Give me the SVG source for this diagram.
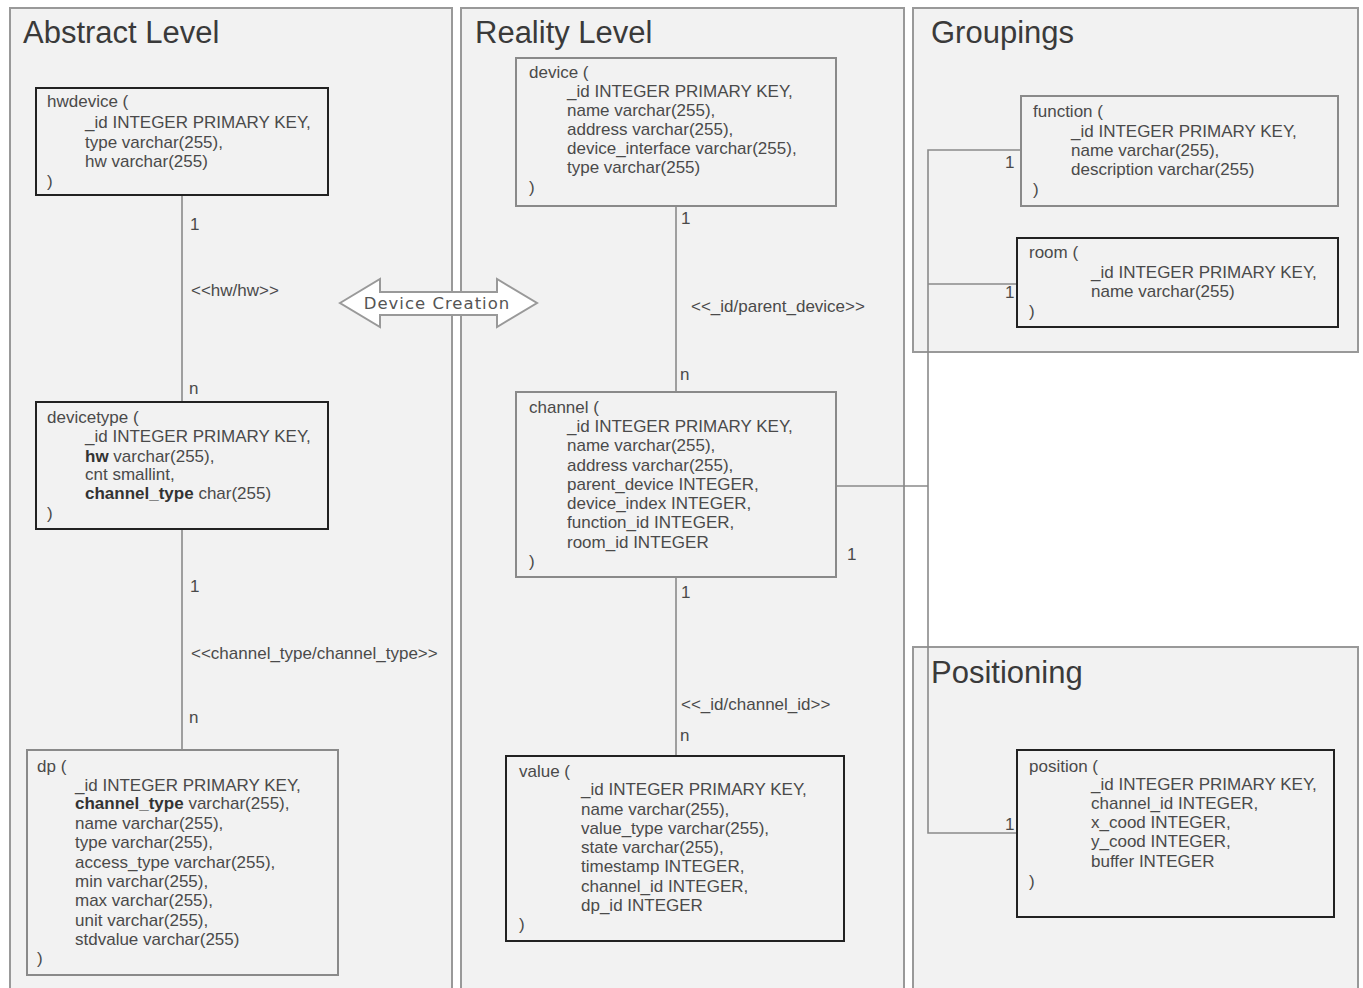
<svg xmlns="http://www.w3.org/2000/svg" width="1363" height="988" viewBox="0 0 1363 988">
<style>
.panel{fill:#f2f2f2;stroke:#999;stroke-width:2}
.title{font-family:"Liberation Sans",Arial,sans-serif;font-size:31px;fill:#3a3a3a}
.nodeA{fill:#f2f2f2;stroke:#222;stroke-width:2}
.nodeB{fill:#f2f2f2;stroke:#8a8a8a;stroke-width:2}
.t{font-family:"Liberation Sans",Arial,sans-serif;font-size:17px;fill:#4a4a4a}
.b{font-weight:bold;fill:#333}
.conn{fill:none;stroke:#8a8a8a;stroke-width:1.6}
.lbl{font-family:"Liberation Sans",Arial,sans-serif;font-size:17px;fill:#4a4a4a}
.big{fill:#fff;stroke:#999;stroke-width:2}
.bigt{font-family:"DejaVu Sans",sans-serif;font-size:16.5px;fill:#555}
</style>
<rect width="1363" height="988" fill="#fff"/>
<g id="panels">
<rect class="panel" x="10" y="8" width="442" height="995"/>
<rect class="panel" x="461" y="8" width="443" height="995"/>
<rect class="panel" x="913" y="8" width="445" height="344"/>
<rect class="panel" x="913" y="647" width="445" height="360"/>
<text class="title" x="23" y="43">Abstract Level</text>
<text class="title" x="475" y="43">Reality Level</text>
<text class="title" x="931" y="43">Groupings</text>
<text class="title" x="931" y="683">Positioning</text>
</g>
<g id="connectors">
<line class="conn" x1="182" y1="195" x2="182" y2="402"/>
<line class="conn" x1="182" y1="529" x2="182" y2="750"/>
<line class="conn" x1="676" y1="206" x2="676" y2="392"/>
<line class="conn" x1="676" y1="577" x2="676" y2="756"/>
<polyline class="conn" points="1021,150 928,150 928,833 1017,833"/>
<line class="conn" x1="928" y1="284" x2="1017" y2="284"/>
<line class="conn" x1="836" y1="486" x2="928" y2="486"/>
<text class="lbl" x="190" y="230">1</text>
<text class="lbl" x="191" y="296">&lt;&lt;hw/hw&gt;&gt;</text>
<text class="lbl" x="189" y="394">n</text>
<text class="lbl" x="190" y="592">1</text>
<text class="lbl" x="191" y="659">&lt;&lt;channel_type/channel_type&gt;&gt;</text>
<text class="lbl" x="189" y="723">n</text>
<text class="lbl" x="681" y="224">1</text>
<text class="lbl" x="691" y="312">&lt;&lt;_id/parent_device&gt;&gt;</text>
<text class="lbl" x="680" y="380">n</text>
<text class="lbl" x="681" y="598">1</text>
<text class="lbl" x="681" y="710">&lt;&lt;_id/channel_id&gt;&gt;</text>
<text class="lbl" x="680" y="741">n</text>
<text class="lbl" x="1005" y="168">1</text>
<text class="lbl" x="1005" y="298">1</text>
<text class="lbl" x="847" y="560">1</text>
<text class="lbl" x="1005" y="830">1</text>
</g>
<g id="device-creation">
<polygon class="big" points="340,303 380,279 380,292 497,292 497,279 537,303 497,327 497,315 380,315 380,327"/>
<text class="bigt" x="437" y="309" text-anchor="middle" letter-spacing="1">Device Creation</text>
</g>
<g id="hwdevice">
<rect class="nodeA" x="36" y="88" width="292" height="107"/>
<text class="t"><tspan x="47" y="107">hwdevice (</tspan><tspan x="85" y="128">_id INTEGER PRIMARY KEY,</tspan><tspan x="85" y="148">type varchar(255),</tspan><tspan x="85" y="167">hw varchar(255)</tspan><tspan x="47" y="187">)</tspan></text>
</g>
<g id="devicetype">
<rect class="nodeA" x="36" y="402" width="292" height="127"/>
<text class="t"><tspan x="47" y="423">devicetype (</tspan><tspan x="85" y="442">_id INTEGER PRIMARY KEY,</tspan><tspan x="85" y="462"><tspan class="b">hw</tspan> varchar(255),</tspan><tspan x="85" y="480">cnt smallint,</tspan><tspan x="85" y="499"><tspan class="b">channel_type</tspan> char(255)</tspan><tspan x="47" y="519">)</tspan></text>
</g>
<g id="dp">
<rect class="nodeB" x="27" y="750" width="311" height="225"/>
<text class="t"><tspan x="37" y="772">dp (</tspan><tspan x="75" y="791">_id INTEGER PRIMARY KEY,</tspan><tspan x="75" y="809"><tspan class="b">channel_type</tspan> varchar(255),</tspan><tspan x="75" y="829">name varchar(255),</tspan><tspan x="75" y="848">type varchar(255),</tspan><tspan x="75" y="868">access_type varchar(255),</tspan><tspan x="75" y="887">min varchar(255),</tspan><tspan x="75" y="906">max varchar(255),</tspan><tspan x="75" y="926">unit varchar(255),</tspan><tspan x="75" y="945">stdvalue varchar(255)</tspan><tspan x="37" y="964">)</tspan></text>
</g>
<g id="device">
<rect class="nodeB" x="516" y="58" width="320" height="148"/>
<text class="t"><tspan x="529" y="78">device (</tspan><tspan x="567" y="97">_id INTEGER PRIMARY KEY,</tspan><tspan x="567" y="116">name varchar(255),</tspan><tspan x="567" y="135">address varchar(255),</tspan><tspan x="567" y="154">device_interface varchar(255),</tspan><tspan x="567" y="173">type varchar(255)</tspan><tspan x="529" y="193">)</tspan></text>
</g>
<g id="channel">
<rect class="nodeB" x="516" y="392" width="320" height="185"/>
<text class="t"><tspan x="529" y="413">channel (</tspan><tspan x="567" y="432">_id INTEGER PRIMARY KEY,</tspan><tspan x="567" y="451">name varchar(255),</tspan><tspan x="567" y="471">address varchar(255),</tspan><tspan x="567" y="490">parent_device INTEGER,</tspan><tspan x="567" y="509">device_index INTEGER,</tspan><tspan x="567" y="528">function_id INTEGER,</tspan><tspan x="567" y="548">room_id INTEGER</tspan><tspan x="529" y="567">)</tspan></text>
</g>
<g id="value">
<rect class="nodeA" x="506" y="756" width="338" height="185"/>
<text class="t"><tspan x="519" y="777">value (</tspan><tspan x="581" y="795">_id INTEGER PRIMARY KEY,</tspan><tspan x="581" y="815">name varchar(255),</tspan><tspan x="581" y="834">value_type varchar(255),</tspan><tspan x="581" y="853">state varchar(255),</tspan><tspan x="581" y="872">timestamp INTEGER,</tspan><tspan x="581" y="892">channel_id INTEGER,</tspan><tspan x="581" y="911">dp_id INTEGER</tspan><tspan x="519" y="930">)</tspan></text>
</g>
<g id="function">
<rect class="nodeB" x="1021" y="96" width="317" height="110"/>
<text class="t"><tspan x="1033" y="117">function (</tspan><tspan x="1071" y="137">_id INTEGER PRIMARY KEY,</tspan><tspan x="1071" y="156">name varchar(255),</tspan><tspan x="1071" y="175">description varchar(255)</tspan><tspan x="1033" y="195">)</tspan></text>
</g>
<g id="room">
<rect class="nodeA" x="1017" y="238" width="321" height="89"/>
<text class="t"><tspan x="1029" y="258">room (</tspan><tspan x="1091" y="278">_id INTEGER PRIMARY KEY,</tspan><tspan x="1091" y="297">name varchar(255)</tspan><tspan x="1029" y="317">)</tspan></text>
</g>
<g id="position">
<rect class="nodeA" x="1017" y="750" width="317" height="167"/>
<text class="t"><tspan x="1029" y="772">position (</tspan><tspan x="1091" y="790">_id INTEGER PRIMARY KEY,</tspan><tspan x="1091" y="809">channel_id INTEGER,</tspan><tspan x="1091" y="828">x_cood INTEGER,</tspan><tspan x="1091" y="847">y_cood INTEGER,</tspan><tspan x="1091" y="867">buffer INTEGER</tspan><tspan x="1029" y="887">)</tspan></text>
</g>
</svg>
